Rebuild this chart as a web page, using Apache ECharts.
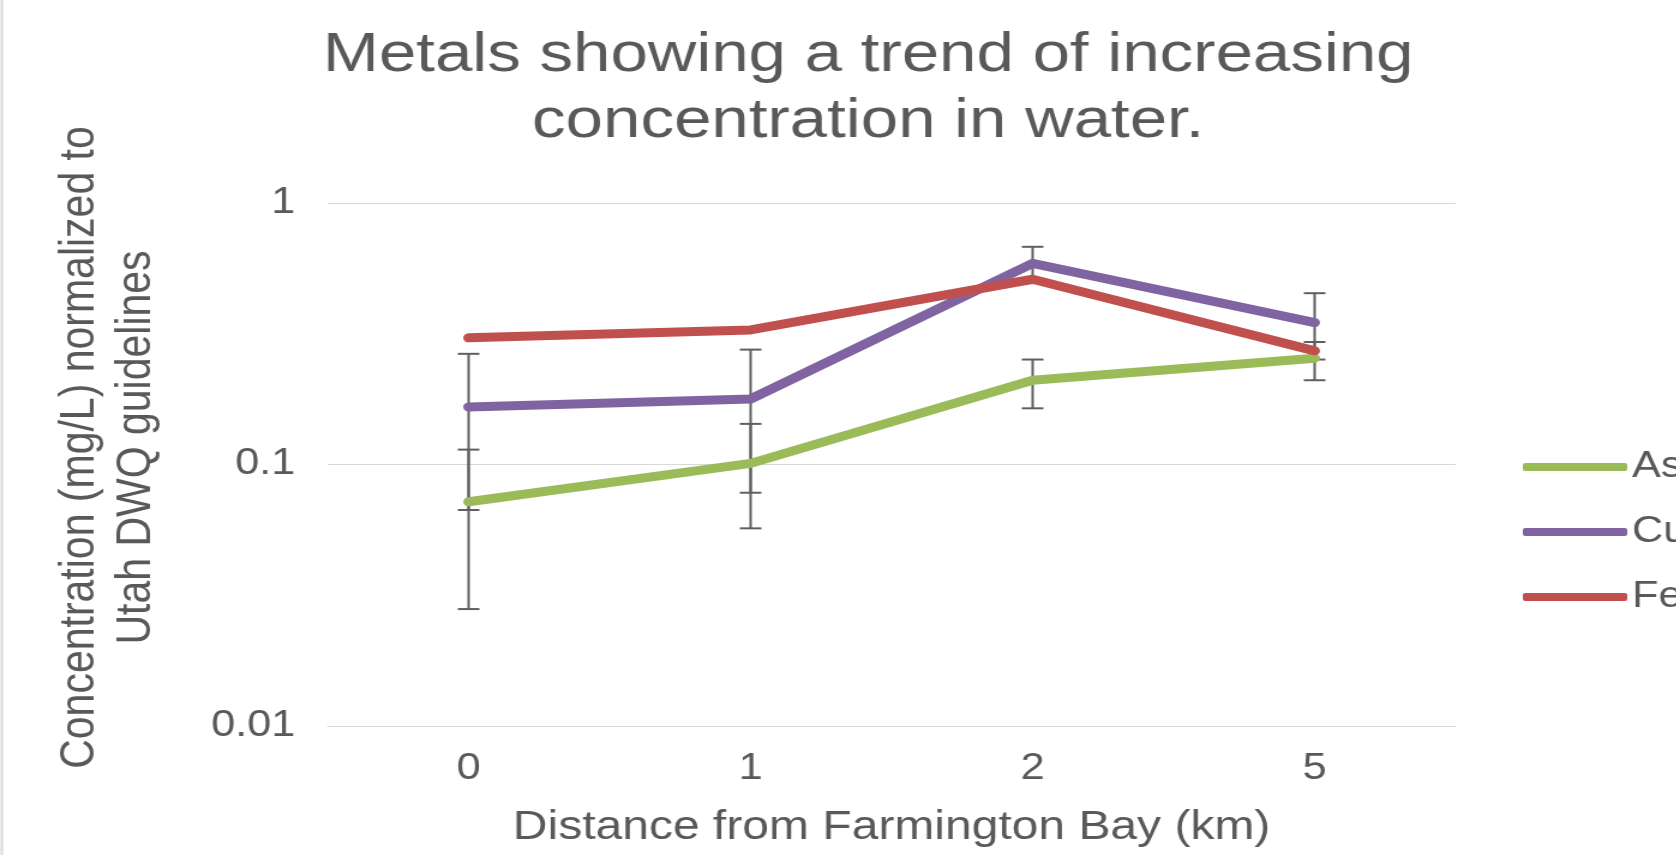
<!DOCTYPE html>
<html>
<head>
<meta charset="utf-8">
<title>Metals trend</title>
<script src="https://cdn.jsdelivr.net/npm/echarts@6/dist/echarts.min.js"></script>
<style>
html, body { margin: 0; padding: 0; background: #fff; overflow: hidden; }
/* the source picture is stretched sideways, so the chart is too */
#main { width: 1397px; height: 855px; transform: scaleX(1.2); transform-origin: 0 0; }
</style>
</head>
<body>
<div id="main"></div>
<script>
const categories = ['0', '1', '2', '5'];
const asValues = [0.072, 0.101, 0.21, 0.255];
const cuValues = [0.166, 0.178, 0.588, 0.349];
const feValues = [0.305, 0.327, 0.511, 0.272];
// error bar ends
const asLow = [0.028, 0.057, 0.164, 0.21];
const asHigh = [0.114, 0.143, 0.252, 0.294];
const cuLow = [0.067, 0.078, 0.494, 0.252];
const cuHigh = [0.265, 0.275, 0.68, 0.452];
const yTicks = [0.01, 0.1, 1];
const yTickLabels = ['0.01', '0.1', '1'];

const font = "'Liberation Sans', Arial, sans-serif";
const textColor = '#595959';

function errorData(low, high) {
  return categories.map((c, i) => [i, low[i], high[i]]);
}

function renderErrorBar(params, api) {
  const i = api.value(0);
  const top = api.coord([i, api.value(2)]);
  const bottom = api.coord([i, api.value(1)]);
  const cap = 9;
  const style = { stroke: '#5f5f5f', lineWidth: 2 };
  return {
    type: 'group',
    children: [
      { type: 'line', shape: { x1: top[0], y1: top[1], x2: bottom[0], y2: bottom[1] }, style: style },
      { type: 'line', shape: { x1: top[0] - cap, y1: top[1], x2: top[0] + cap, y2: top[1] }, style: style },
      { type: 'line', shape: { x1: bottom[0] - cap, y1: bottom[1], x2: bottom[0] + cap, y2: bottom[1] }, style: style }
    ]
  };
}

function lineSeries(name, values, color) {
  return {
    name: name,
    type: 'line',
    data: values,
    symbol: 'none',
    z: 3,
    color: color,
    lineStyle: { width: 9, color: color, cap: 'round', join: 'round' }
  };
}

function errorSeries(low, high) {
  return {
    type: 'custom',
    renderItem: renderErrorBar,
    data: errorData(low, high),
    encode: { x: 0, y: [1, 2] },
    z: 1,
    silent: true
  };
}

var myChart = echarts.init(document.getElementById('main'));
var option = {
  animation: false,
  backgroundColor: '#fff',
  textStyle: { fontFamily: font },
  title: {
    text: 'Metals showing a trend of increasing\nconcentration in water.',
    left: 723.5,
    top: 23,
    padding: 0,
    textAlign: 'center',
    textStyle: { fontFamily: font, fontSize: 56, fontWeight: 'normal', color: textColor, lineHeight: 66 }
  },
  legend: {
    data: ['As', 'Cu', 'Fe'],
    orient: 'vertical',
    left: 1269,
    top: 447,
    padding: 0,
    icon: 'roundRect',
    itemWidth: 87,
    itemHeight: 8,
    itemGap: 25,
    textStyle: { fontFamily: font, fontSize: 36, color: textColor, lineHeight: 40, padding: [0, 0, 0, -1] }
  },
  grid: { left: 273, right: 184, top: 203, bottom: 129 },
  xAxis: {
    type: 'category',
    data: categories,
    boundaryGap: true,
    name: 'Distance from Farmington Bay (km)',
    nameLocation: 'middle',
    nameGap: 82,
    nameTextStyle: { fontFamily: font, fontSize: 40, color: textColor },
    axisTick: { show: false },
    axisLine: { lineStyle: { color: '#d9d9d9', width: 1 } },
    axisLabel: { fontFamily: font, fontSize: 36, color: textColor, margin: 25 }
  },
  yAxis: {
    type: 'log',
    logBase: 10,
    min: 0.01,
    max: 1,
    name: 'Concentration (mg/L) normalized to\nUtah DWQ guidelines',
    nameLocation: 'middle',
    nameGap: 136,
    nameTextStyle: { fontFamily: font, fontSize: 41, color: textColor, lineHeight: 47, align: 'center', padding: [0, 0, 0, 34] },
    axisLine: { show: false },
    axisTick: { show: false },
    splitLine: { lineStyle: { color: '#d9d9d9', width: 1 } },
    axisLabel: {
      fontFamily: font,
      fontSize: 36,
      color: textColor,
      margin: 27,
      formatter: function (v) {
        var k = 0;
        yTicks.forEach(function (t, j) {
          if (Math.abs(Math.log10(t) - Math.log10(v)) < Math.abs(Math.log10(yTicks[k]) - Math.log10(v))) k = j;
        });
        return yTickLabels[k];
      }
    }
  },
  graphic: [
    { type: 'line', shape: { x1: 1.5, y1: 0, x2: 1.5, y2: 855 }, style: { stroke: '#d9d9d9', lineWidth: 2 } }
  ],
  series: [
    errorSeries(asLow, asHigh),
    errorSeries(cuLow, cuHigh),
    lineSeries('As', asValues, '#9bbb59'),
    lineSeries('Cu', cuValues, '#8064a2'),
    lineSeries('Fe', feValues, '#c0504d')
  ]
};
myChart.setOption(option);
</script>
</body>
</html>
